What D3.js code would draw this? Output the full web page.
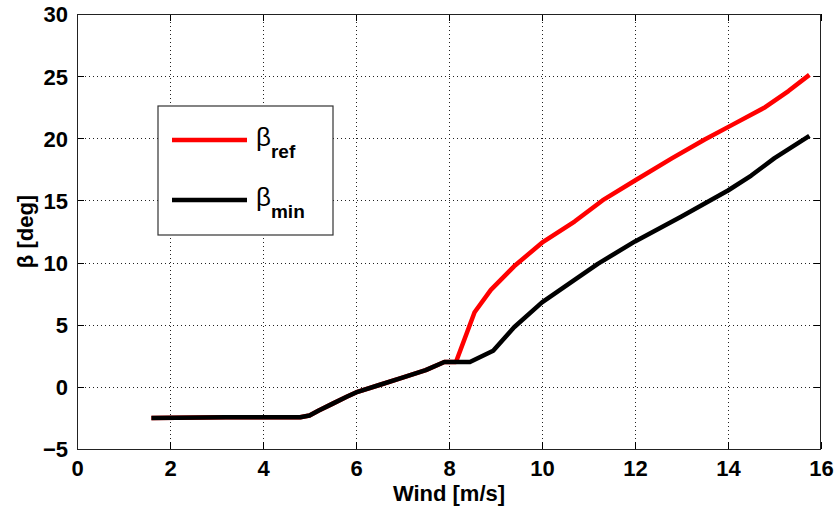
<!DOCTYPE html>
<html>
<head>
<meta charset="utf-8">
<script src="https://cdn.jsdelivr.net/npm/d3@7"></script>
<style>
  html, body { margin: 0; padding: 0; background: #fff; }
  svg { display: block; font-family: "Liberation Sans", Arial, sans-serif; }
</style>
</head>
<body>
<svg id="chart" width="834" height="513"></svg>
<script>
// Pitch angle versus wind speed
const windTicks = [0, 2, 4, 6, 8, 10, 12, 14, 16];
const betaTicks = [-5, 0, 5, 10, 15, 20, 25, 30];

// shared low-wind segment
const lowWind = [1.6, 3.2, 4.8, 5.0, 5.2, 5.5, 5.8, 6.0, 6.5, 7.0, 7.5, 7.9];
const lowBeta = [-2.5, -2.45, -2.45, -2.3, -1.9, -1.35, -0.8, -0.45, 0.15, 0.75, 1.35, 2.0];

const refWind = [8.15, 8.55, 8.9, 9.4, 10.0, 10.7, 11.3, 12.0, 12.8, 13.5, 14.1, 14.8, 15.3, 15.75];
const refBeta = [2.0, 6.0, 7.8, 9.7, 11.6, 13.3, 15.0, 16.6, 18.4, 19.9, 21.1, 22.5, 23.8, 25.1];

const minWind = [8.45, 8.95, 9.4, 10.0, 10.7, 11.2, 12.0, 13.0, 14.0, 14.5, 15.0, 15.75];
const minBeta = [2.0, 2.9, 4.8, 6.8, 8.6, 9.9, 11.7, 13.7, 15.8, 17.0, 18.4, 20.2];

const zip = (xs, ys) => xs.map((x, i) => [x, ys[i]]);
const lowPts = zip(lowWind, lowBeta);
const refPts = lowPts.concat(zip(refWind, refBeta));
const minPts = lowPts.concat(zip(minWind, minBeta));

const svg = d3.select("#chart");
const L = 77, R = 821, T = 14, B = 449;

const x = d3.scaleLinear().domain([0, 16]).range([L, R]);
const y = d3.scaleLinear().domain([-5, 30]).range([B, T]);

// dotted grid
const grid = svg.append("g").attr("stroke", "#222").attr("stroke-width", 1)
  .attr("stroke-dasharray", "1,3").attr("shape-rendering", "crispEdges");
windTicks.slice(1, -1).forEach(v => {
  grid.append("line").attr("x1", Math.round(x(v)) + 0.5).attr("x2", Math.round(x(v)) + 0.5)
    .attr("y1", T).attr("y2", B);
});
betaTicks.slice(1, -1).forEach(v => {
  grid.append("line").attr("y1", Math.round(y(v)) + 0.5).attr("y2", Math.round(y(v)) + 0.5)
    .attr("x1", L).attr("x2", R);
});

// axes with inward ticks on all four sides
const tickLen = 7;
const fs = 22;
const axB = svg.append("g").attr("transform", `translate(0,${B})`)
  .call(d3.axisBottom(x).tickValues(windTicks).tickSize(-tickLen).tickPadding(12).tickFormat(d3.format("d")));
const axT = svg.append("g").attr("transform", `translate(0,${T})`)
  .call(d3.axisTop(x).tickValues(windTicks).tickSize(-tickLen).tickFormat(""));
const axL = svg.append("g").attr("transform", `translate(${L},0)`)
  .call(d3.axisLeft(y).tickValues(betaTicks).tickSize(-tickLen).tickPadding(9).tickFormat(d3.format("d")));
const axR = svg.append("g").attr("transform", `translate(${R},0)`)
  .call(d3.axisRight(y).tickValues(betaTicks).tickSize(-tickLen).tickFormat(""));

[axB, axT, axL, axR].forEach(a => {
  a.select(".domain").remove();
  a.selectAll("line").attr("stroke", "#000").attr("shape-rendering", "crispEdges");
  a.selectAll("text").attr("font-size", fs).attr("font-weight", "bold").attr("fill", "#000")
    .attr("font-family", "'Liberation Sans', Arial, sans-serif");
});
axB.selectAll("text").attr("dy", "0.7em");
axL.selectAll("text").attr("dy", "0.36em");

// frame
svg.append("rect").attr("x", L + 0.5).attr("y", T + 0.5).attr("width", R - L - 1).attr("height", B - T)
  .attr("fill", "none").attr("stroke", "#222").attr("stroke-width", 1.2).attr("shape-rendering", "crispEdges");

// curves
const line = d3.line().x(d => x(d[0])).y(d => y(d[1]));
svg.append("path").datum(refPts).attr("d", line)
  .attr("fill", "none").attr("stroke", "#ff0000").attr("stroke-width", 4.5).attr("stroke-linejoin", "round");
svg.append("path").datum(minPts).attr("d", line)
  .attr("fill", "none").attr("stroke", "#000").attr("stroke-width", 4.5).attr("stroke-linejoin", "round");

// axis labels
svg.append("text").attr("x", (L + R) / 2).attr("y", 501).attr("text-anchor", "middle")
  .attr("font-size", fs).attr("font-weight", "bold").text("Wind [m/s]");
svg.append("text").attr("transform", `translate(33,${(T + B) / 2}) rotate(-90)`).attr("text-anchor", "middle")
  .attr("font-size", fs).attr("font-weight", "bold").text("β [deg]");

// legend
const leg = svg.append("g");
leg.append("rect").attr("x", 158).attr("y", 106).attr("width", 175).attr("height", 129)
  .attr("fill", "#fff").attr("stroke", "#333").attr("stroke-width", 1.2);
const entries = [
  { color: "#ff0000", sub: "ref", ly: 140 },
  { color: "#000", sub: "min", ly: 200 }
];
entries.forEach(e => {
  leg.append("line").attr("x1", 172).attr("x2", 247).attr("y1", e.ly).attr("y2", e.ly)
    .attr("stroke", e.color).attr("stroke-width", 4.5);
  const t = leg.append("text").attr("x", 256).attr("y", e.ly + 6).attr("font-size", 26);
  t.append("tspan").text("β");
  t.append("tspan").attr("dy", 12).attr("font-size", 19).attr("font-weight", "bold").text(e.sub);
});
</script>
</body>
</html>
